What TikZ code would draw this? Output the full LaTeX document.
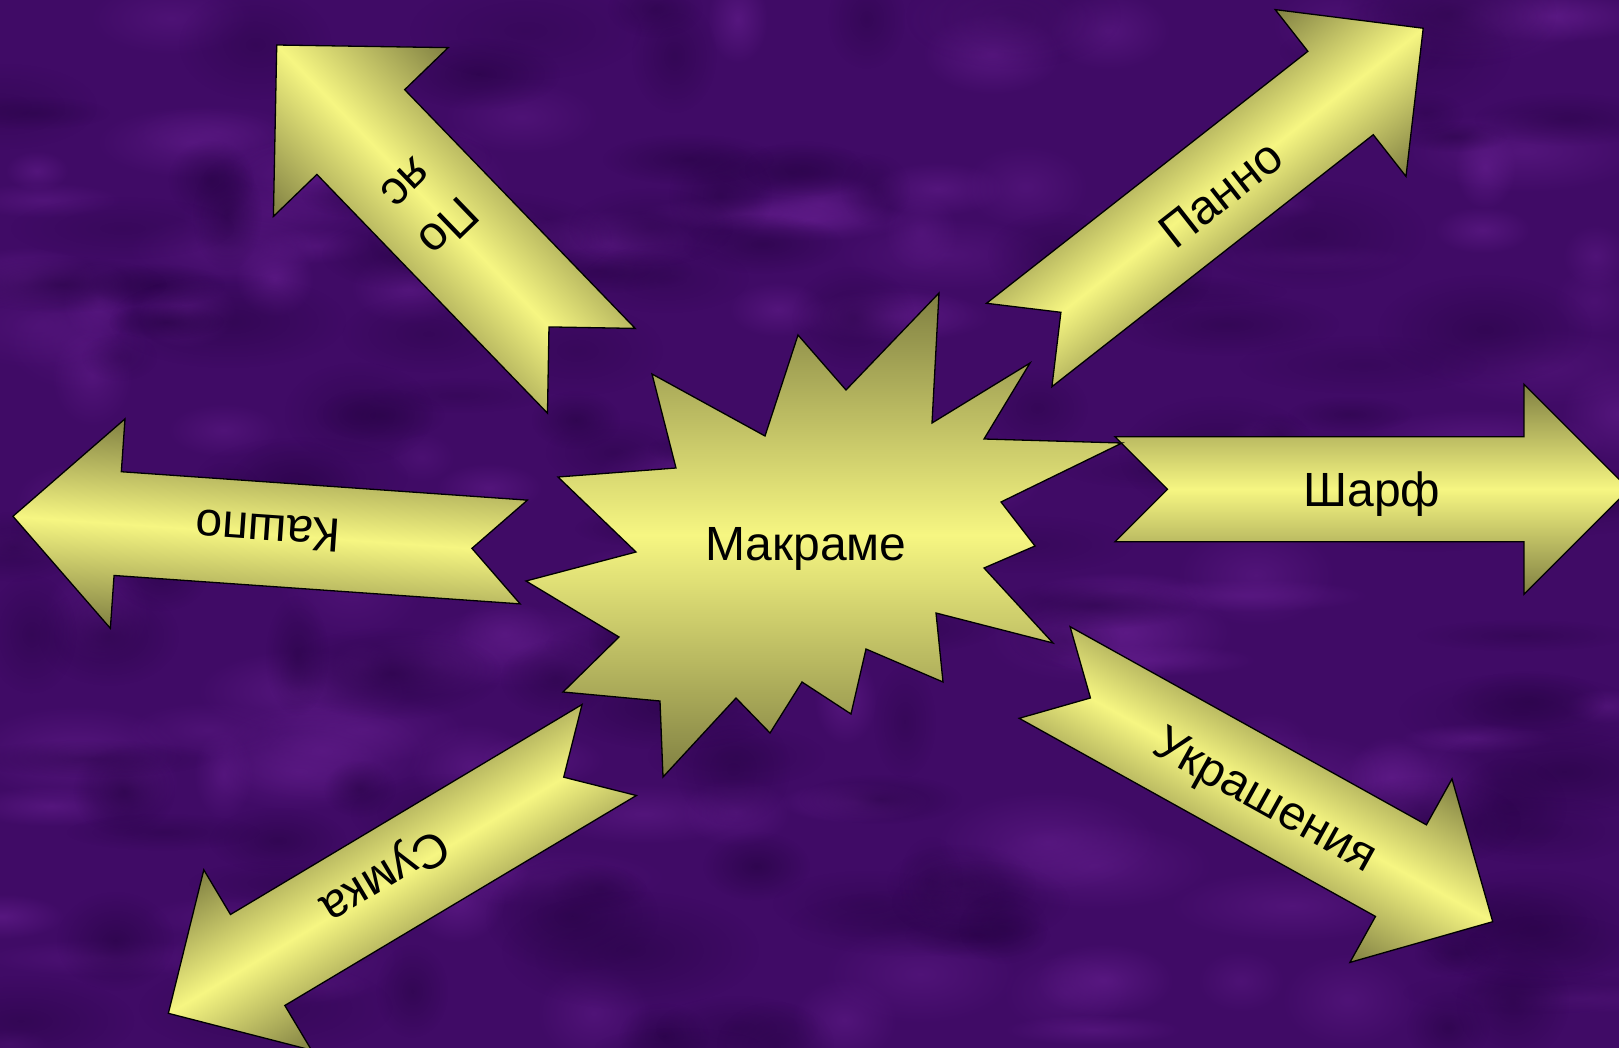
\documentclass[tikz,border=0pt]{standalone}
\usepackage{fontspec}
\setmainfont{Liberation Sans}
\usetikzlibrary{fadings}
\tikzfading[name=softblob, inner color=transparent!0, outer color=transparent!100]
\definecolor{bgpurple}{RGB}{64,11,102}
\definecolor{bgdark}{RGB}{40,3,70}
\definecolor{bglight}{RGB}{100,30,142}
\definecolor{olivedark}{RGB}{128,128,66}
\definecolor{lemon}{RGB}{246,246,130}
\tikzset{
  shapefill/.style={draw=black, line width=1.3pt, line join=miter,
    top color=olivedark, bottom color=olivedark, middle color=lemon},
  lbl/.style={font=\fontsize{48}{60}\selectfont, text=black, inner sep=0pt,
    text height=34.5pt, text depth=0pt},
  lbltwo/.style={font=\fontsize{48}{60}\selectfont, text=black, inner sep=0pt, align=center},
}
% tail-x, tail-y, angle, length, shaft half-width, head half-width, head length
\newcommand\blockarrow[7]{%
  \begin{scope}[transform canvas={shift={(#1,#2)},rotate=#3}]
    \path[shapefill] (0,#5) -- ({#4-#7},#5) -- ({#4-#7},#6) -- (#4,0)
      -- ({#4-#7},-#6) -- ({#4-#7},-#5) -- (0,-#5) -- (#5,0) -- cycle;
  \end{scope}}
\begin{document}
\begin{tikzpicture}[x=1pt,y=-1pt]
\fill[bgpurple, use as bounding box] (0,0) rectangle (1619,1048);
% background texture
\pgfmathsetseed{11}
\foreach \i in {1,...,130}{
  \pgfmathsetmacro\cx{rnd*1619}
  \pgfmathsetmacro\cy{rnd*1048}
  \pgfmathsetmacro\rx{30+rnd*100}
  \pgfmathsetmacro\ry{15+rnd*40}
  \pgfmathsetmacro\op{0.3+rnd*0.4}
  \fill[bglight, path fading=softblob, opacity=\op] (\cx,\cy) ellipse [x radius=\rx, y radius=\ry];
}
\foreach \i in {1,...,130}{
  \pgfmathsetmacro\cx{rnd*1619}
  \pgfmathsetmacro\cy{rnd*1048}
  \pgfmathsetmacro\rx{30+rnd*100}
  \pgfmathsetmacro\ry{15+rnd*45}
  \pgfmathsetmacro\op{0.3+rnd*0.4}
  \fill[bgdark, path fading=softblob, opacity=\op] (\cx,\cy) ellipse [x radius=\rx, y radius=\ry];
}

% arrows
\blockarrow{591.35}{370.8}{134.0}{452.9}{61}{121.5}{121}
\blockarrow{1019.2}{345}{38.1}{513.4}{53}{106}{105}
\blockarrow{523.8}{552}{176.0}{512.1}{52}{105}{105}
\blockarrow{1115}{489.2}{0}{514}{52.5}{105}{105}
\blockarrow{609.2}{750}{210.85}{513.5}{53}{105}{104}
\blockarrow{1044.65}{672.5}{-29.08}{512.7}{52.4}{105}{105}

% star
\path[shapefill] (939,293) -- (932,423) -- (1030,363) -- (984,439) -- (1122,443)
  -- (1001,502) -- (1035,546) -- (984,568) -- (1053,643) -- (936,613)
  -- (943,682) -- (866,649) -- (851,714) -- (802,682) -- (770,733)
  -- (736,698) -- (663,777) -- (660,701) -- (563,692) -- (619,637)
  -- (526,581) -- (636,552) -- (558,477) -- (676,468) -- (652,374)
  -- (765,436) -- (798,335) -- (846,390) -- cycle;

% labels
\node[lbl] (makrame) at (806,543) {Макраме};
\node[lbl] (sharf) at (1372,489) {Шарф};
\node[lbl, rotate=38.1] (panno) at (1220,193) {Панно};
\node[lbl, rotate=176] (kashpo) at (268,532) {Кашпо};
\node[lbl, rotate=210.85] (sumka) at (386,879) {Сумка};
\node[lbl, rotate=-29.08] (ukr) at (1267,798) {Украшения};
\node[lbltwo, rotate=224] (poyas) at (428,206) {По\\яс};
\end{tikzpicture}
\end{document}
